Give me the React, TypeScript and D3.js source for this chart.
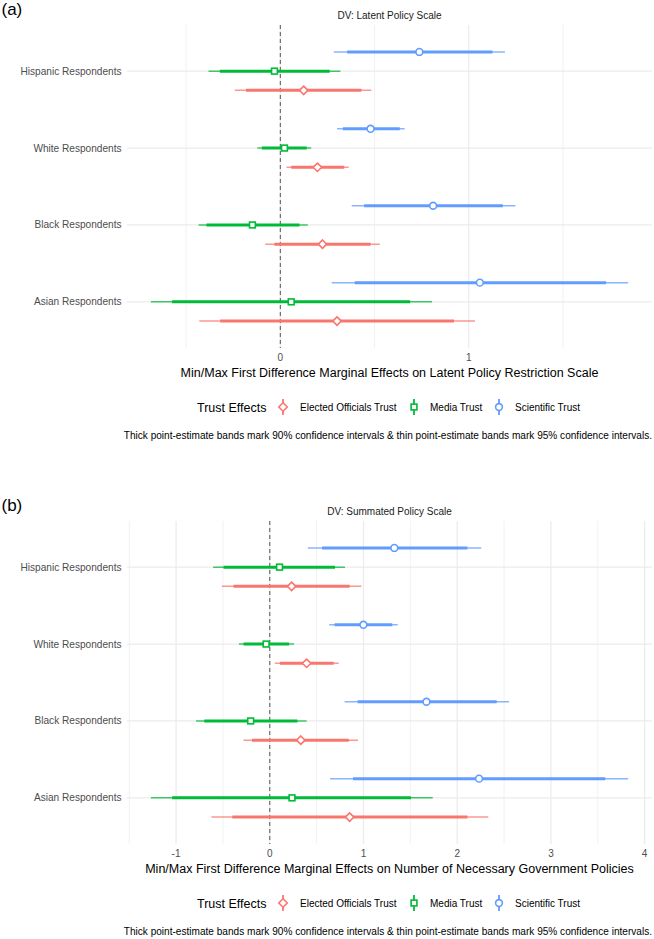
import React from "react";
import * as d3 from "d3";

// ---------- data ----------
const categories = [
  "Hispanic Respondents",
  "White Respondents",
  "Black Respondents",
  "Asian Respondents",
];
const seriesNames = ["Elected Officials Trust", "Media Trust", "Scientific Trust"];
const seriesColors = ["#F8766D", "#00BA38", "#619CFF"];
const seriesShapes = ["diamond", "square", "circle"];

// Panel (a): DV Latent Policy Scale
const latentElectedEst = [0.124, 0.197, 0.224, 0.301];
const latentElectedLo95 = [-0.242, 0.033, -0.08, -0.43];
const latentElectedHi95 = [0.483, 0.363, 0.528, 1.033];
const latentElectedLo90 = [-0.182, 0.058, -0.031, -0.319];
const latentElectedHi90 = [0.43, 0.339, 0.479, 0.922];

const latentMediaEst = [-0.031, 0.022, -0.148, 0.058];
const latentMediaLo95 = [-0.381, -0.122, -0.434, -0.687];
const latentMediaHi95 = [0.319, 0.164, 0.146, 0.805];
const latentMediaLo90 = [-0.321, -0.098, -0.392, -0.574];
const latentMediaHi90 = [0.262, 0.14, 0.102, 0.689];

const latentScienceEst = [0.738, 0.479, 0.811, 1.059];
const latentScienceLo95 = [0.284, 0.301, 0.379, 0.273];
const latentScienceHi95 = [1.192, 0.66, 1.248, 1.846];
const latentScienceLo90 = [0.355, 0.332, 0.445, 0.395];
const latentScienceHi90 = [1.126, 0.634, 1.181, 1.729];

// Panel (b): DV Summated Policy Scale
const summedElectedEst = [0.233, 0.393, 0.331, 0.852];
const summedElectedLo95 = [-0.511, 0.054, -0.28, -0.623];
const summedElectedHi95 = [0.977, 0.736, 0.941, 2.332];
const summedElectedLo90 = [-0.387, 0.108, -0.19, -0.4];
const summedElectedHi90 = [0.852, 0.682, 0.843, 2.109];

const summedMediaEst = [0.104, -0.039, -0.204, 0.237];
const summedMediaLo95 = [-0.605, -0.329, -0.788, -1.269];
const summedMediaHi95 = [0.803, 0.259, 0.393, 1.739];
const summedMediaLo90 = [-0.494, -0.28, -0.699, -1.042];
const summedMediaHi90 = [0.696, 0.206, 0.295, 1.507];

const summedScienceEst = [1.329, 0.999, 1.672, 2.233];
const summedScienceLo95 = [0.406, 0.634, 0.799, 0.643];
const summedScienceHi95 = [2.256, 1.365, 2.554, 3.824];
const summedScienceLo90 = [0.558, 0.692, 0.937, 0.888];
const summedScienceHi90 = [2.109, 1.307, 2.421, 3.579];

const latentMajorTicks = [0, 1];
const latentMinorTicks = [-0.5, 0.5, 1.5];
const summedMajorTicks = [-1, 0, 1, 2, 3, 4];
const summedMinorTicks = [-1.5, -0.5, 0.5, 1.5, 2.5, 3.5];

type Row = { cat: number; s: number; est: number; lo95: number; hi95: number; lo90: number; hi90: number };

function buildRows(sets: number[][][]): Row[] {
  const rows: Row[] = [];
  sets.forEach((set, s) => {
    const [est, lo95, hi95, lo90, hi90] = set;
    categories.forEach((_, c) => {
      rows.push({ cat: c, s, est: est[c], lo95: lo95[c], hi95: hi95[c], lo90: lo90[c], hi90: hi90[c] });
    });
  });
  return rows;
}

const latentRows = buildRows([
  [latentElectedEst, latentElectedLo95, latentElectedHi95, latentElectedLo90, latentElectedHi90],
  [latentMediaEst, latentMediaLo95, latentMediaHi95, latentMediaLo90, latentMediaHi90],
  [latentScienceEst, latentScienceLo95, latentScienceHi95, latentScienceLo90, latentScienceHi90],
]);
const summedRows = buildRows([
  [summedElectedEst, summedElectedLo95, summedElectedHi95, summedElectedLo90, summedElectedHi90],
  [summedMediaEst, summedMediaLo95, summedMediaHi95, summedMediaLo90, summedMediaHi90],
  [summedScienceEst, summedScienceLo95, summedScienceHi95, summedScienceLo90, summedScienceHi90],
]);

// ---------- drawing ----------
const FONT = "'Liberation Sans', Arial, Helvetica, sans-serif";
const seriesDodge = [-0.25, 0, 0.25];

function Shape({ kind, x, y, color }: { kind: string; x: number; y: number; color: string }) {
  const sw = 1.6;
  if (kind === "circle") return <circle cx={x} cy={y} r={3.4} fill="white" stroke={color} strokeWidth={sw} />;
  if (kind === "square")
    return <rect x={x - 2.9} y={y - 2.9} width={5.8} height={5.8} fill="white" stroke={color} strokeWidth={sw} />;
  const h = 4.2;
  return (
    <path d={`M${x},${y - h}L${x + h},${y}L${x},${y + h}L${x - h},${y}Z`} fill="white" stroke={color} strokeWidth={sw} />
  );
}

type PanelProps = {
  dy: number;
  tag: string;
  title: string;
  axisTitle: string;
  rows: Row[];
  majors: number[];
  minors: number[];
};

function Panel({ dy, tag, title, axisTitle, rows, majors, minors }: PanelProps) {
  const left = 127,
    right = 652,
    top = 25,
    bottom = 348;
  const lo = d3.min(rows, (r) => r.lo95)!;
  const hi = d3.max(rows, (r) => r.hi95)!;
  const pad = (hi - lo) * 0.05;
  const x = d3.scaleLinear().domain([lo - pad, hi + pad]).range([left, right]);
  const n = categories.length;
  const y = d3.scaleLinear().domain([0.4, n + 0.6]).range([bottom, top]);
  const catPos = (c: number) => n - c;

  const legendY = 407;
  const keyX = [283, 414, 499];
  const labX = [300, 430, 515];

  return (
    <g transform={`translate(0,${dy})`} fontFamily={FONT}>
      <text x={1.5} y={15} fontSize={17} fill="#000">
        {tag}
      </text>
      <text x={(left + right) / 2} y={18.5} fontSize={10} fill="#1A1A1A" textAnchor="middle">
        {title}
      </text>
      {/* grid */}
      {minors.map((t) => (
        <line key={"mi" + t} x1={x(t)} x2={x(t)} y1={top} y2={bottom} stroke="#EBEBEB" strokeWidth={0.7} />
      ))}
      {majors.map((t) => (
        <line key={"ma" + t} x1={x(t)} x2={x(t)} y1={top} y2={bottom} stroke="#EBEBEB" strokeWidth={1.2} />
      ))}
      {categories.map((c, i) => (
        <line key={"h" + c} x1={left} x2={right} y1={y(catPos(i))} y2={y(catPos(i))} stroke="#EBEBEB" strokeWidth={1.2} />
      ))}
      <line x1={x(0)} x2={x(0)} y1={top} y2={bottom} stroke="#555" strokeWidth={1} strokeDasharray="4,3" />
      {/* category labels */}
      {categories.map((c, i) => (
        <text key={"l" + c} x={left - 5.5} y={y(catPos(i)) + 3.5} fontSize={10.1} fill="#4D4D4D" textAnchor="end">
          {c}
        </text>
      ))}
      {/* tick labels */}
      {majors.map((t) => (
        <text key={"t" + t} x={x(t)} y={bottom + 12.5} fontSize={10} fill="#4D4D4D" textAnchor="middle">
          {t}
        </text>
      ))}
      <text x={(left + right) / 2} y={bottom + 28.5} fontSize={12.5} fill="#000" textAnchor="middle">
        {axisTitle}
      </text>
      {/* marks */}
      {rows.map((r, k) => {
        const yy = y(catPos(r.cat) + seriesDodge[r.s]);
        const col = seriesColors[r.s];
        return (
          <g key={"m" + k}>
            <line x1={x(r.lo95)} x2={x(r.hi95)} y1={yy} y2={yy} stroke={col} strokeWidth={1.5} strokeOpacity={0.75} />
            <line x1={x(r.lo90)} x2={x(r.hi90)} y1={yy} y2={yy} stroke={col} strokeWidth={3} />
            <Shape kind={seriesShapes[r.s]} x={x(r.est)} y={yy} color={col} />
          </g>
        );
      })}
      {/* legend */}
      <text x={197} y={legendY + 4.5} fontSize={12.5} fill="#000">
        Trust Effects
      </text>
      {seriesNames.map((s, i) => (
        <g key={"lg" + s}>
          <line x1={keyX[i]} x2={keyX[i]} y1={legendY - 8} y2={legendY + 8} stroke={seriesColors[i]} strokeWidth={1.8} />
          <Shape kind={seriesShapes[i]} x={keyX[i]} y={legendY} color={seriesColors[i]} />
          <text x={labX[i]} y={legendY + 3.5} fontSize={10} fill="#000">
            {s}
          </text>
        </g>
      ))}
      <text x={652} y={438.5} fontSize={10.08} fill="#000" textAnchor="end">
        Thick point-estimate bands mark 90% confidence intervals &amp; thin point-estimate bands mark 95% confidence
        intervals.
      </text>
    </g>
  );
}

export default function App() {
  return (
    <div style={{ position: "absolute", left: 0, top: 0 }}>
      <svg width={654} height={939} style={{ display: "block", background: "white" }}>
        <rect width={654} height={939} fill="white" />
        <Panel
          dy={0}
          tag="(a)"
          title="DV: Latent Policy Scale"
          axisTitle="Min/Max First Difference Marginal Effects on Latent Policy Restriction Scale"
          rows={latentRows}
          majors={latentMajorTicks}
          minors={latentMinorTicks}
        />
        <Panel
          dy={496}
          tag="(b)"
          title="DV: Summated Policy Scale"
          axisTitle="Min/Max First Difference Marginal Effects on Number of Necessary Government Policies"
          rows={summedRows}
          majors={summedMajorTicks}
          minors={summedMinorTicks}
        />
      </svg>
    </div>
  );
}
